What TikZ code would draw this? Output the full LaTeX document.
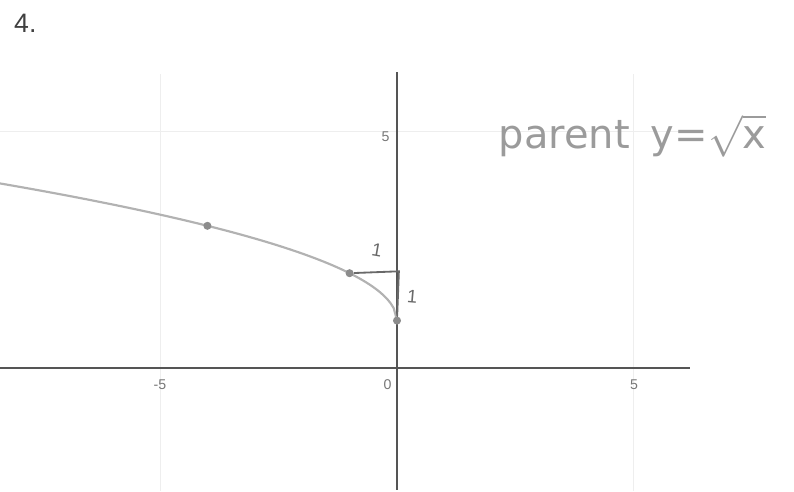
\documentclass[tikz,border=0pt]{standalone}
\usepackage{fontspec}
\setmainfont{Liberation Sans}
\newfontfamily\handfont{DejaVu Sans}
\usetikzlibrary{positioning,calc}
\definecolor{axiscolor}{RGB}{85,85,85}
\definecolor{gridcolor}{RGB}{238,238,238}
\definecolor{curvecolor}{RGB}{178,178,178}
\definecolor{dotcolor}{RGB}{140,140,140}
\definecolor{inkcolor}{RGB}{105,105,105}
\definecolor{handcolor}{RGB}{155,155,155}

\begin{document}
\begin{tikzpicture}[
    axis/.style={draw=axiscolor, line width=0.7pt},
    grid/.style={draw=gridcolor, line width=0.6pt},
    curve/.style={draw=curvecolor, line width=1.3pt},
    dot/.style={circle, fill=dotcolor, inner sep=0pt, minimum size=0.17cm},
    bracket/.style={draw=inkcolor, line width=1.1pt},
    tick/.style={font=\fontsize{8.5}{10}\selectfont, text=axiscolor!80},
    hand/.style={font=\handfont\fontsize{24}{28}\selectfont, text=handcolor},
    mark1/.style={font=\fontsize{11}{12}\selectfont, text=inkcolor}
]
\useasboundingbox (-8.376,-2.616) rectangle (8.376,7.764);

% ===== GRID =====
\coordinate (gl_top) at (-5,6.2);
\coordinate (gl_bot) at (-5,-2.6);
\coordinate (gr_top) at (5,6.2);
\coordinate (gr_bot) at (5,-2.6);
\coordinate (gh_left) at (-8.376,5);
\coordinate (gh_right) at (6.2,5);
\draw[grid] (gl_top) -- (gl_bot);
\draw[grid] (gr_top) -- (gr_bot);
\draw[grid] (gh_left) -- (gh_right);

% ===== AXES =====
\coordinate (x_left) at (-8.376,0);
\coordinate (x_right) at (6.18,0);
\coordinate (y_top) at (0,6.24);
\coordinate (y_bot) at (0,-2.57);
\draw[axis] (x_left) -- (x_right);
\draw[axis] (y_top) -- (y_bot);

\node[tick] (tx_m5) at (-5,-0.36) {-5};
\node[tick] (tx_0) at (-0.2,-0.36) {0};
\node[tick] (tx_5) at (5,-0.36) {5};
\node[tick] (ty_5) at (-0.24,4.89) {5};

% ===== CURVE y = sqrt(-x) + 1 =====
\draw[curve] plot[domain=-8.4:0, samples=120] (\x,{sqrt(-\x)+1});

\node[dot] (p_a) at (-4,3) {};
\node[dot] (p_b) at (-1,2) {};
\node[dot] (p_c) at (0,1) {};

% ===== SHIFT MARKS =====
\coordinate (corner) at (0.04,2.04);
\draw[bracket] (p_b) -- (corner) -- (p_c);
\node[mark1, rotate=-10] (run) at (-0.42,2.48) {1};
\node[mark1, rotate=-5] (rise) at (0.32,1.5) {1};

% ===== LABELS =====
\node[font=\fontsize{16}{19}\selectfont, text=black!75, anchor=north west] (num) at (-8.2,7.58) {4.};
\node[hand, anchor=west] (parent) at (2.02,4.9) {parent\hspace{0.45cm}y=$\sqrt{\hbox{\handfont x}}$};

\end{tikzpicture}
\end{document}
